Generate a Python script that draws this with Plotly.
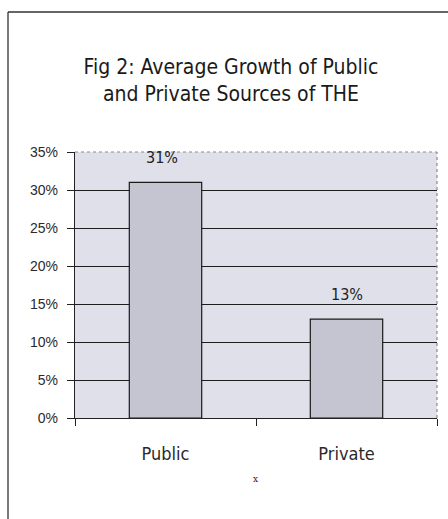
import plotly.graph_objects as go

# Average growth of THE by financing source
sources = ["Public", "Private"]
growth = [0.31, 0.13]
value_labels = ["31%", "13%"]
y_ticks = [0, 0.05, 0.10, 0.15, 0.20, 0.25, 0.30, 0.35]
y_tick_text = ["0%", "5%", "10%", "15%", "20%", "25%", "30%", "35%"]

W, H = 448, 519
L, R, T, B = 75, 11, 152, 101
pw, ph = W - L - R, H - T - B


def px_x(px):
    return (px - L) / pw


def px_y(py):
    return (H - B - py) / ph


narrow = "Liberation Sans Narrow, DejaVu Sans Condensed, Arial Narrow, sans-serif"
plain = "Liberation Sans, Arial, sans-serif"

fig = go.Figure(
    go.Bar(
        x=sources,
        y=growth,
        width=0.4,
        marker=dict(color="#c5c5d1", line=dict(color="#1a1a1a", width=1.2)),
        hoverinfo="skip",
    )
)

# value labels above each bar
for s, v, t in zip(sources, growth, value_labels):
    fig.add_annotation(
        x=s, y=v, text=t, showarrow=False, yanchor="bottom", yshift=13,
        xshift=-4 if s == "Public" else 0,
        font=dict(family=narrow, size=16, color="#222"),
    )

shapes = [
    # outer frame (top and left edges)
    dict(type="line", xref="paper", yref="paper", x0=px_x(8), x1=px_x(448),
         y0=px_y(12), y1=px_y(12), line=dict(color="#333", width=1.3)),
    dict(type="line", xref="paper", yref="paper", x0=px_x(8), x1=px_x(8),
         y0=px_y(12), y1=px_y(519), line=dict(color="#333", width=1.3)),
    # plot-area border (top and right)
    dict(type="line", xref="paper", yref="paper", x0=0, x1=1, y0=1, y1=1,
         line=dict(color="#8a8a8a", width=1.2, dash="dot")),
    dict(type="line", xref="paper", yref="paper", x0=1, x1=1, y0=0, y1=1,
         line=dict(color="#8a8a8a", width=1.2, dash="dot")),
]

fig.update_layout(
    width=W, height=H,
    margin=dict(l=L, r=R, t=T, b=B),
    paper_bgcolor="white",
    plot_bgcolor="#e0e0eb",
    showlegend=False,
    bargap=0.6,
    shapes=shapes,
    title=dict(
        text="Fig 2: Average Growth of Public<br>and Private Sources of THE",
        x=231 / W, xanchor="center",
        y=1 - 74 / H, yanchor="middle",
        font=dict(family=narrow, size=21, color="#1a1a1a"),
    ),
    xaxis=dict(
        type="category",
        tickson="boundaries",
        ticks="outside", ticklen=7, tickcolor="#222", tickwidth=1.2,
        showline=True, linecolor="#222", linewidth=1.3,
        showgrid=False,
        tickfont=dict(family=narrow, size=18, color="#2a2a2a"),
        ticklabelstandoff=19,
    ),
    yaxis=dict(
        range=[0, 0.35],
        tickvals=y_ticks, ticktext=y_tick_text,
        ticks="outside", ticklen=7, tickcolor="#222", tickwidth=1.2,
        showline=True, linecolor="#222", linewidth=1.3,
        showgrid=True, gridcolor="#1e1e1e", gridwidth=1.2,
        zeroline=False,
        tickfont=dict(family=plain, size=14, color="#2a2a2a"),
        ticklabelstandoff=6,
    ),
)

# small mark below the axis
fig.add_annotation(
    xref="paper", yref="paper", x=px_x(255), y=px_y(486), text="x",
    showarrow=False, font=dict(family="DejaVu Serif", size=9, color="#222"),
)

fig.write_html("out.html")
